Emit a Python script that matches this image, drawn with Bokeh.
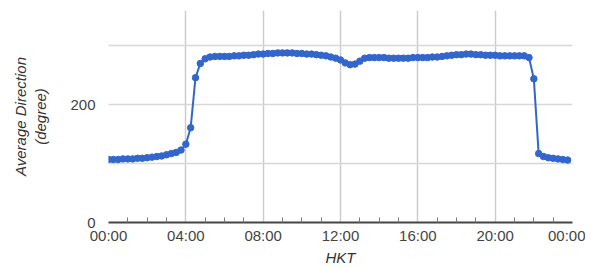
from bokeh.plotting import figure
from bokeh.models import FixedTicker, Range1d, ColumnDataSource
from bokeh.embed import file_html
from bokeh.resources import INLINE

# ---- data -------------------------------------------------------------
times = [
    "00:00", "00:15", "00:30", "00:45", "01:00", "01:15", "01:30", "01:45",
    "02:00", "02:15", "02:30", "02:45", "03:00", "03:15", "03:30", "03:45",
    "04:00", "04:15", "04:30", "04:45", "05:00", "05:15", "05:30", "05:45",
    "06:00", "06:15", "06:30", "06:45", "07:00", "07:15", "07:30", "07:45",
    "08:00", "08:15", "08:30", "08:45", "09:00", "09:15", "09:30", "09:45",
    "10:00", "10:15", "10:30", "10:45", "11:00", "11:15", "11:30", "11:45",
    "12:00", "12:15", "12:30", "12:45", "13:00", "13:15", "13:30", "13:45",
    "14:00", "14:15", "14:30", "14:45", "15:00", "15:15", "15:30", "15:45",
    "16:00", "16:15", "16:30", "16:45", "17:00", "17:15", "17:30", "17:45",
    "18:00", "18:15", "18:30", "18:45", "19:00", "19:15", "19:30", "19:45",
    "20:00", "20:15", "20:30", "20:45", "21:00", "21:15", "21:30", "21:45",
    "22:00", "22:15", "22:30", "22:45", "23:00", "23:15", "23:30", "23:45",
]
direction = [
    107, 107, 107, 108, 108, 108, 109, 109,
    110, 111, 112, 113, 115, 117, 119, 123,
    133, 161, 246, 270, 278, 281, 282, 282,
    282, 282, 283, 283, 284, 284, 285, 286,
    286, 287, 287, 288, 288, 288, 288, 287,
    287, 286, 286, 285, 284, 283, 281, 279,
    276, 271, 268, 269, 274, 279, 280, 280,
    280, 280, 279, 279, 279, 279, 279, 280,
    280, 280, 280, 281, 281, 282, 283, 284,
    285, 285, 286, 286, 285, 285, 284, 284,
    284, 283, 283, 283, 283, 283, 283, 280,
    244, 117, 112, 110, 109, 108, 107, 106,
]
x_tick_hours = [0, 4, 8, 12, 16, 20, 24]
x_tick_labels = ["00:00", "04:00", "08:00", "12:00", "16:00", "20:00", "00:00"]
x_minor_hours = [h for h in range(25) if h % 4 != 0]
y_tick_values = [0, 200]
y_grid_values = [100, 200, 300]
x_title = "HKT"
y_title = "Average Direction\n(degree)"

# ---- figure -----------------------------------------------------------
hours = [int(t[:2]) + int(t[3:]) / 60 for t in times]
src = ColumnDataSource(dict(x=hours, y=direction))

FONT = "Liberation Sans"

p = figure(
    output_backend="svg", toolbar_location=None,
    frame_width=464, frame_height=212,
    min_border_left=108, min_border_right=13, min_border_top=10, min_border_bottom=44,
    x_range=Range1d(0, 24), y_range=Range1d(0, 360),
)
p.outline_line_color = None
p.background_fill_color = "white"

p.line("x", "y", source=src, line_color="#3366cc", line_width=2)
p.scatter("x", "y", source=src, size=6.5, fill_color="#3366cc", line_color="#3366cc")

# x axis
xa = p.xaxis[0]
xa.ticker = FixedTicker(ticks=x_tick_hours, minor_ticks=x_minor_hours)
xa.major_label_overrides = {h: lab for h, lab in zip(x_tick_hours, x_tick_labels)}
xa.axis_line_color = "#444444"
xa.axis_line_width = 2
xa.major_tick_line_color = None
xa.major_tick_out = 0
xa.major_tick_in = 0
xa.minor_tick_in = 5
xa.minor_tick_out = 0
xa.minor_tick_line_color = "#777777"
xa.major_label_text_font = FONT
xa.major_label_text_font_size = "15px"
xa.major_label_text_color = "#444444"
xa.major_label_standoff = 4
xa.axis_label = x_title
xa.axis_label_text_font = FONT
xa.axis_label_text_font_size = "15px"
xa.axis_label_text_font_style = "italic"
xa.axis_label_text_color = "#333333"
xa.axis_label_standoff = 2

# y axis
ya = p.yaxis[0]
ya.ticker = FixedTicker(ticks=y_tick_values)
ya.axis_line_color = None
ya.major_tick_line_color = None
ya.major_tick_out = 0
ya.major_tick_in = 0
ya.minor_tick_line_color = None
ya.minor_tick_out = 0
ya.minor_tick_in = 0
ya.major_label_text_font = FONT
ya.major_label_text_font_size = "15px"
ya.major_label_text_color = "#444444"
ya.major_label_standoff = 13
ya.axis_label = y_title
ya.axis_label_text_font = FONT
ya.axis_label_text_font_size = "15px"
ya.axis_label_text_font_style = "italic"
ya.axis_label_text_color = "#333333"
ya.axis_label_standoff = 18

p.xgrid.ticker = FixedTicker(ticks=x_tick_hours)
p.xgrid.grid_line_color = "#cccccc"
p.xgrid.grid_line_width = 1.5
p.ygrid.ticker = FixedTicker(ticks=y_grid_values)
p.ygrid.grid_line_color = "#d8d8d8"
p.ygrid.grid_line_width = 1.5

open("out.html", "w").write(file_html(p, INLINE))
